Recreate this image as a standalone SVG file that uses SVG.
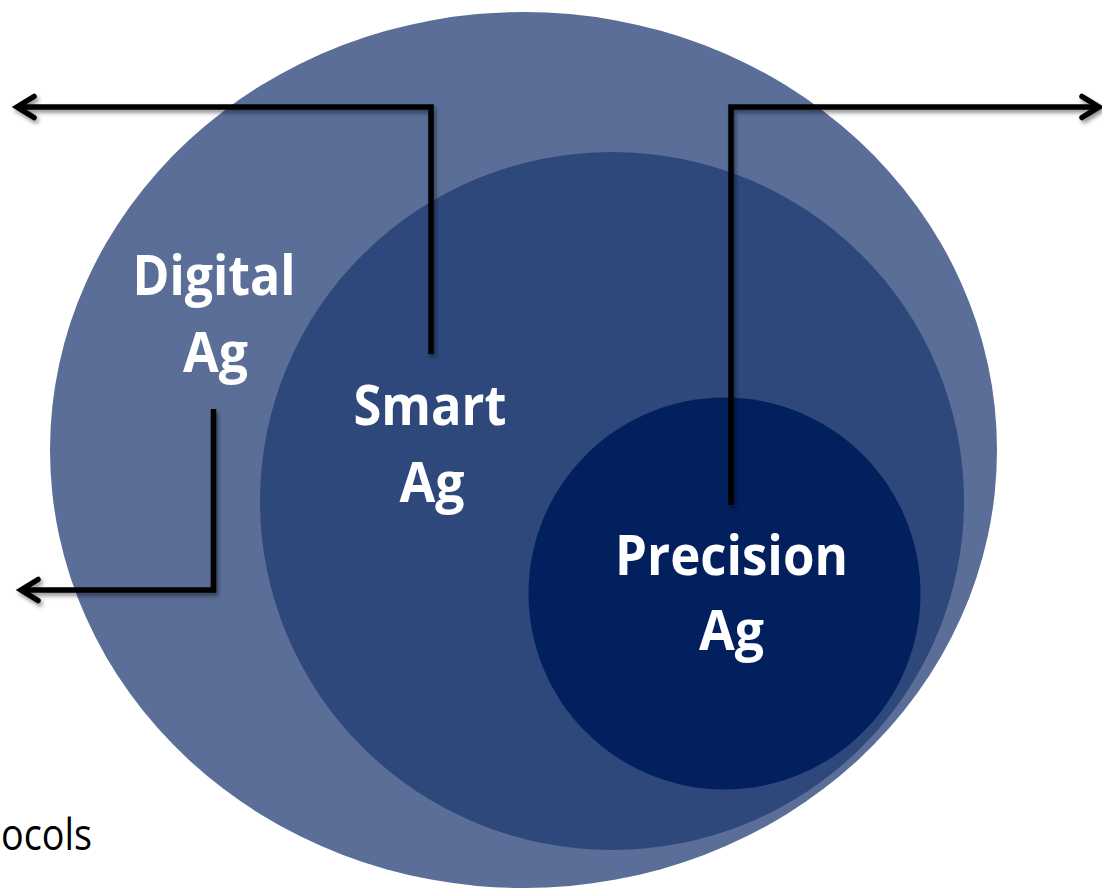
<svg xmlns="http://www.w3.org/2000/svg" width="1102" height="889" viewBox="0 0 1102 889">
  <defs>
    <filter id="soft-shadow" x="-10%" y="-10%" width="120%" height="120%">
      <feDropShadow dx="2" dy="3" stdDeviation="2" flood-color="#000" flood-opacity="0.45"/>
    </filter>
    <marker id="chevron" markerUnits="userSpaceOnUse" markerWidth="30" markerHeight="30" viewBox="-22 -15 26 30" refX="0" refY="0" orient="auto" overflow="visible">
      <path d="M-17,-10.5 L0,0 L-17,10.5" fill="none" stroke="#000" stroke-width="5.5" stroke-linecap="round" stroke-linejoin="miter"/>
    </marker>
  </defs>
  <style>
    .label { font-family: "Open Sans", "Lato", "Liberation Sans", sans-serif; font-weight: 700; font-size: 55px; fill: #ffffff; text-anchor: middle; }
    .note { font-family: "Open Sans", "Liberation Sans", sans-serif; font-size: 44px; fill: #000000; }
    .leader { fill: none; stroke: #000; stroke-width: 5.5; stroke-linejoin: miter; marker-end: url(#chevron); }
  </style>

  <rect width="1102" height="889" fill="#ffffff"/>

  <!-- nested domains, outermost first -->
  <g id="digital-ag">
    <ellipse cx="523.5" cy="450" rx="473.5" ry="438" fill="#5a6e98"/>
  </g>
  <g id="smart-ag">
    <ellipse cx="612" cy="501" rx="352" ry="349" fill="#2e487c"/>
  </g>
  <g id="precision-ag">
    <circle cx="724.5" cy="593.5" r="196" fill="#02205e"/>
  </g>

  <g id="labels">
    <text class="label" x="214" y="295" textLength="163" lengthAdjust="spacingAndGlyphs">Digital</text>
    <text class="label" x="215.5" y="372" textLength="65" lengthAdjust="spacingAndGlyphs">Ag</text>
    <text class="label" x="430" y="425" textLength="153" lengthAdjust="spacingAndGlyphs">Smart</text>
    <text class="label" x="432" y="502" textLength="65" lengthAdjust="spacingAndGlyphs">Ag</text>
    <text class="label" x="731.5" y="575" textLength="233" lengthAdjust="spacingAndGlyphs">Precision</text>
    <text class="label" x="731.5" y="650" textLength="65" lengthAdjust="spacingAndGlyphs">Ag</text>
  </g>

  <!-- leader lines with open arrowheads -->
  <g id="connectors" filter="url(#soft-shadow)">
    <path class="leader" d="M431,354 V107 H17"/>
    <path class="leader" d="M731,505 V107 H1099"/>
    <path class="leader" d="M213.5,409 V590 H21"/>
  </g>

  <g id="footnote">
    <text class="note" x="1" y="850" textLength="91" lengthAdjust="spacingAndGlyphs">ocols</text>
  </g>
</svg>
